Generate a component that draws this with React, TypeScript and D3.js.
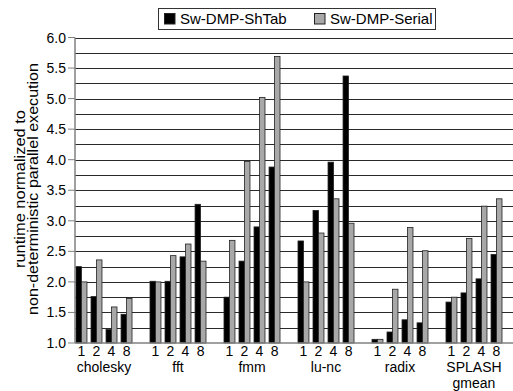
import { useEffect, useRef } from "react";
import * as d3 from "d3";

const categories = ["cholesky", "fft", "fmm", "lu-nc", "radix", "SPLASH\ngmean"];
const threads = ["1", "2", "4", "8"];
const seriesNames = ["Sw-DMP-ShTab", "Sw-DMP-Serial"];

// per category, per thread count
const shTab = [
    [2.25, 1.76, 1.22, 1.47],
    [2.01, 2.01, 2.41, 3.27],
    [1.75, 2.34, 2.9, 3.88],
    [2.67, 3.17, 3.96, 5.37],
    [1.06, 1.18, 1.38, 1.33],
    [1.67, 1.82, 2.05, 2.45],
];
const serial = [
    [2.0, 2.36, 1.59, 1.73],
    [2.0, 2.43, 2.62, 2.34],
    [2.68, 3.97, 5.02, 5.69],
    [2.0, 2.8, 3.36, 2.96],
    [1.06, 1.88, 2.89, 2.51],
    [1.75, 2.71, 3.24, 3.36],
];
const yTicks = [1.0, 1.5, 2.0, 2.5, 3.0, 3.5, 4.0, 4.5, 5.0, 5.5, 6.0];

export default function App() {
    const ref = useRef<SVGSVGElement>(null);

    useEffect(() => {
        const width = 513;
        const height = 391;
        const font = "'Liberation Sans', Arial, sans-serif";
        const colors = ["#000000", "#a8a8a8"];

        const svg = d3.select(ref.current);
        svg.selectAll("*").remove();

        const y = d3.scaleLinear().domain([1, 6]).range([343, 37.5]);

        const x0 = d3.scaleBand()
            .domain(categories)
            .range([76, 502])
            .paddingInner(0.243)
            .paddingOuter(0);

        const x1 = d3.scaleBand()
            .domain(threads)
            .range([0, x0.bandwidth()])
            .paddingInner(0.27);

        const x2 = d3.scaleBand()
            .domain(seriesNames)
            .range([0, x1.bandwidth()]);

        // grid every 0.25
        const grid = d3.range(1.25, 6.01, 0.25);
        svg.append("g")
            .selectAll("line")
            .data(grid)
            .enter().append("line")
                .attr("x1", 75)
                .attr("x2", width)
                .attr("y1", d => Math.round(y(d)) + 0.5)
                .attr("y2", d => Math.round(y(d)) + 0.5)
                .attr("stroke", "#2a2a2a")
                .attr("stroke-width", 1);

        // bars
        const rows = categories.flatMap((c, ci) =>
            threads.flatMap((t, ti) => [
                { c, t, s: seriesNames[0], v: shTab[ci][ti], k: 0 },
                { c, t, s: seriesNames[1], v: serial[ci][ti], k: 1 },
            ]));

        svg.append("g")
            .selectAll("rect")
            .data(rows)
            .enter().append("rect")
                .attr("x", d => (x0(d.c) ?? 0) + (x1(d.t) ?? 0) + (x2(d.s) ?? 0))
                .attr("y", d => y(d.v))
                .attr("width", x2.bandwidth())
                .attr("height", d => y(1) - y(d.v))
                .attr("fill", d => colors[d.k])
                .attr("stroke", "#222")
                .attr("stroke-width", 0.8);

        // axes lines
        svg.append("line")
            .attr("x1", 75).attr("x2", width)
            .attr("y1", y(1)).attr("y2", y(1))
            .attr("stroke", "#808080").attr("stroke-width", 1.5);
        svg.append("line")
            .attr("x1", 75).attr("x2", 75)
            .attr("y1", y(6)).attr("y2", y(1))
            .attr("stroke", "#808080").attr("stroke-width", 1.5);

        const yAxis = svg.append("g");
        yAxis.selectAll("line")
            .data(yTicks)
            .enter().append("line")
                .attr("x1", 68).attr("x2", 75)
                .attr("y1", d => y(d)).attr("y2", d => y(d))
                .attr("stroke", "#808080").attr("stroke-width", 1);
        yAxis.selectAll("text")
            .data(yTicks)
            .enter().append("text")
                .attr("x", 66)
                .attr("y", d => y(d))
                .attr("dy", "0.36em")
                .attr("text-anchor", "end")
                .style("font-family", font)
                .style("font-size", "14px")
                .text(d => d.toFixed(1));

        // thread labels and category names
        const xl = svg.append("g");
        categories.forEach(c => {
            threads.forEach(t => {
                xl.append("text")
                    .attr("x", (x0(c) ?? 0) + (x1(t) ?? 0) + x1.bandwidth() / 2)
                    .attr("y", 356.2)
                    .attr("text-anchor", "middle")
                    .style("font-family", font)
                    .style("font-size", "14px")
                    .text(t);
            });
            c.split("\n").forEach((line, li) => {
                xl.append("text")
                    .attr("x", (x0(c) ?? 0) + x0.bandwidth() / 2)
                    .attr("y", 372 + li * 15.7)
                    .attr("text-anchor", "middle")
                    .style("font-family", font)
                    .style("font-size", "14px")
                    .text(line);
            });
        });

        // y title
        const title = svg.append("text")
            .attr("transform", "translate(0,189) rotate(-90)")
            .attr("text-anchor", "middle")
            .style("font-family", font)
            .style("font-size", "14px");
        title.append("tspan").attr("x", 0).attr("y", 24.5)
            .attr("textLength", 158).attr("lengthAdjust", "spacingAndGlyphs")
            .text("runtime normalized to");
        title.append("tspan").attr("x", 0).attr("y", 37.5)
            .attr("textLength", 252).attr("lengthAdjust", "spacingAndGlyphs")
            .text("non-deterministic parallel execution");

        // legend
        const lg = svg.append("g");
        lg.append("rect")
            .attr("x", 158.5).attr("y", 8.5)
            .attr("width", 277).attr("height", 21)
            .attr("fill", "white").attr("stroke", "#333");
        const legendX = [164, 314];
        seriesNames.forEach((s, i) => {
            lg.append("rect")
                .attr("x", legendX[i] + 0.5).attr("y", 13.5)
                .attr("width", 10.5).attr("height", 10.5)
                .attr("fill", colors[i]).attr("stroke", "#222");
            lg.append("text")
                .attr("x", legendX[i] + 16)
                .attr("y", 24)
                .style("font-family", font)
                .style("font-size", "15px")
                .text(s);
        });

        svg.attr("width", width).attr("height", height);
    }, []);

    return (
        <svg ref={ref} width={513} height={391}
            style={{ position: "absolute", left: 0, top: 0, background: "white" }} />
    );
}
